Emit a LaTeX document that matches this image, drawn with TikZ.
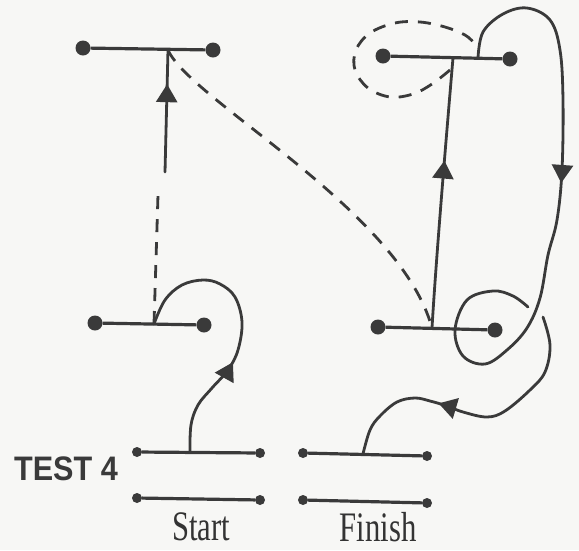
\documentclass[tikz,border=0pt]{standalone}
\usepackage{fontspec}
\setmainfont{Liberation Serif}
\newfontfamily\headfont{Liberation Sans}
\usetikzlibrary{arrows.meta,decorations.markings}
\definecolor{ink}{HTML}{3A3A3A}
\definecolor{paper}{HTML}{F7F7F5}
\tikzset{
  dot/.style={circle,fill=ink,inner sep=0pt,minimum size=15pt},
  smalldot/.style={circle,fill=ink,inner sep=0pt,minimum size=10pt},
  bar/.style={draw=ink,line width=3.2pt},
  curve/.style={draw=ink,line width=2.8pt,line cap=round},
  dashcurve/.style={draw=ink,line width=2.8pt,dash pattern=on 13pt off 10pt},
  midarrow/.style={postaction={decorate},decoration={markings,
     mark=at position #1 with {\arrow{Triangle[width=21pt,length=18pt]}}}},
  lbl/.style={text=ink,anchor=base,inner sep=0pt}
}
\begin{document}
\begin{tikzpicture}[x=1pt,y=-1pt]
\useasboundingbox[fill=paper] (0,0) rectangle (579,550);

% top-left T
\node[dot] (tlA) at (83,48) {};
\node[dot] (tlB) at (213,50) {};
\coordinate (tlJ) at (168,50);
\coordinate (tlV) at (165,172);
\draw[bar] (tlA) -- (tlB);

% lower-left T
\node[dot] (llA) at (95,323) {};
\node[dot] (llB) at (204,325) {};
\coordinate (llJ) at (154,324);
\coordinate (llV) at (158,195);
\draw[bar] (llA) -- (llB);

% top-right T
\node[dot] (trA) at (383,56) {};
\node[dot] (trB) at (510,59) {};
\coordinate (trJ) at (453,58);
\coordinate (trK) at (478,58);
\draw[bar] (trA) -- (trB);

% lower-right T
\node[dot] (lrA) at (378,327) {};
\node[dot] (lrB) at (495,330) {};
\coordinate (lrJ) at (432,328);
\coordinate (lrE) at (528,307);
\coordinate (fK) at (543,317);
\draw[bar] (lrA) -- (lrB);

% start bars
\node[smalldot] (s1A) at (137,452) {};
\node[smalldot] (s1B) at (260,453) {};
\coordinate (s1J) at (190,452);
\node[smalldot] (s2A) at (137,498) {};
\node[smalldot] (s2B) at (260,500) {};
\draw[bar] (s1A) -- (s1B);
\draw[bar] (s2A) -- (s2B);

% finish bars
\node[smalldot] (f1A) at (303,453) {};
\node[smalldot] (f1B) at (427,456) {};
\coordinate (f1J) at (363,454);
\node[smalldot] (f2A) at (303,500) {};
\node[smalldot] (f2B) at (427,503) {};
\draw[bar] (f1A) -- (f1B);
\draw[bar] (f2A) -- (f2B);

% connectors
\draw[curve,midarrow=0.72] (tlV) -- (tlJ);
\draw[dashcurve] (llJ) -- (llV);
\draw[dashcurve] (tlJ) .. controls (190,100) and (400,210) .. (lrJ);

\draw[curve,midarrow=0.37] plot[smooth,tension=0.6] coordinates
  {(s1J) (191,425) (198,405) (212,388) (228,370) (238,350) (242,322)
   (235,297) (220,284) (203,280) (182,285) (165,300) (llJ)};

\draw[curve,midarrow=0.62] (lrJ) .. controls (436,260) and (446,140) .. (trJ);

\draw[curve,midarrow=0.43] plot[smooth,tension=0.6] coordinates
  {(trK) (483,32) (503,14) (527,8) (550,20) (560,50) (563,100) (562,170)
   (557,220) (548,255) (540,298) (527,328) (507,350) (485,364) (463,356)
   (455,330) (467,300) (493,291) (513,296) (lrE)};

\draw[curve,midarrow=0.63] plot[smooth,tension=0.6] coordinates
  {(fK) (550,345) (545,372) (530,390) (505,411) (487,417) (463,412)
   (447,406) (430,401) (415,398) (397,402) (380,416) (370,430) (f1J)};

% dashed loop round the top-right left dot
\draw[dashcurve] plot[smooth,tension=0.6] coordinates
  {(450,70) (432,84) (413,94) (390,97) (368,88) (355,70) (356,50)
   (370,33) (395,23) (420,22) (445,27) (465,35) (474,43)};

% labels
\node[lbl,font=\headfont\bfseries\fontsize{34}{34}\selectfont] (test) at (66,480)
  {\scalebox{0.9}[1]{TEST 4}};
\node[lbl,text=black!80,font=\fontsize{42}{42}\selectfont] (start) at (201,540)
  {\scalebox{0.73}[1]{Start}};
\node[lbl,text=black!80,font=\fontsize{42}{42}\selectfont] (finish) at (378,541)
  {\scalebox{0.73}[1]{Finish}};
\end{tikzpicture}
\end{document}
